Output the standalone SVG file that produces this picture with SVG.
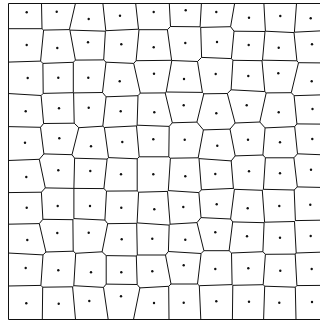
<svg xmlns="http://www.w3.org/2000/svg" width="320" height="324" viewBox="0 0 320 324">
<style>
.edge{fill:none;stroke:#111;stroke-width:1;stroke-linejoin:round}
.frame{fill:none;stroke:#111;stroke-width:1}
.site{fill:#111}
</style>
<rect x="0" y="0" width="320" height="324" fill="#fff"/>
<g id="frame"><path class="frame" d="M8.5,3.5 H321 M8.5,3.5 V319.5 H321"/></g>
<g id="connectors">
<path class="edge" d="M41.5,3.5 L42,28.7 L43.6,30.1 L40.6,61.1 L42.9,63.4 L43.2,93.4 L41.1,95.5 L43.6,123.5 L40.5,127.3 L43.9,153.9 L39.3,159.3 L45.3,187.9 L41.4,192.2 L42.9,219.3 L39.3,223.6 L45.9,252 L43,254.9 L40.9,285.4 L42.7,287.2 L42.3,319.5"/>
<path class="edge" d="M75.4,3.5 L69.4,29.6 L69.9,30.1 L75.4,60.1 L73.3,62.3 L73.3,92.7 L73.6,92.9 L74.2,123.2 L78.8,127.7 L72,154.7 L74.6,158.2 L73.9,188.4 L73.9,218.6 L72.9,219.7 L73.2,251.2 L75.7,253.3 L73.8,285.7 L72.6,286.8 L75.5,319.5"/>
<path class="edge" d="M102.9,3.5 L105.8,30.7 L105.4,31.2 L103.7,59.9 L106,62.2 L102.5,92.5 L106.1,96.8 L102.8,126.2 L104.4,127.5 L108.5,157.6 L107.1,159.1 L103.9,188.6 L106.5,191.1 L104.9,220.1 L107.7,223.7 L102.1,251.8 L106.2,255.6 L106.2,284.1 L103.5,287.4 L108.2,319.5"/>
<path class="edge" d="M135.7,3.5 L138.5,29.2 L139,29.7 L136.1,60.7 L133.7,63.4 L140.3,93.1 L138,95.7 L137.1,125.2 L136.5,125.9 L139.2,156.8 L137.2,158.8 L137.2,190.9 L138.6,192.2 L137.1,222.9 L136.7,223.3 L137.3,255 L136.3,256 L137.2,284.5 L139.9,287.9 L133.5,319.5"/>
<path class="edge" d="M169.3,3.5 L170.5,26.5 L167.4,29.7 L171.6,60.3 L171.8,60.5 L166.2,92 L165.2,92.9 L172.3,122.8 L169.2,126.4 L168.8,156.8 L170.4,158.2 L168.3,190.6 L167.5,191.4 L170.1,224.2 L169.2,225.1 L168.4,251.5 L165.5,255 L171,284 L168.7,286.3 L169,319.5"/>
<path class="edge" d="M201.4,3.5 L200.1,26.8 L200.7,27.4 L201.6,57.4 L197.5,61.5 L202.4,92.4 L203.8,93.8 L196.9,122.1 L203.4,129.9 L198.2,157.8 L199,158.6 L201.4,189.8 L198.9,192.6 L201,217.6 L197,222.6 L203.9,250.7 L201.1,253.5 L197.5,284 L199.3,285.7 L200.8,319.5"/>
<path class="edge" d="M234.6,3.5 L230.6,26.7 L234,31.2 L231.4,58.6 L232.9,60.3 L231.1,89.8 L227.3,93.5 L235.1,123 L230,129.1 L235.2,155.9 L231.2,160.9 L233.4,188.4 L234.4,189.3 L230.6,219 L232.7,221.9 L229.1,250.7 L231.5,253 L232.1,284.6 L232.8,285.3 L232.4,319.5"/>
<path class="edge" d="M263.9,3.5 L265.4,31.2 L265,31.5 L262.5,60.2 L262,60.7 L264.8,91.6 L266.2,92.9 L259.8,122 L265.1,127.9 L262.9,155 L265.4,157.8 L263.4,189.3 L262.3,190.3 L264.6,222.2 L264.1,222.7 L262.9,251.7 L265.4,254.3 L263.2,284.7 L264.7,286.2 L263.6,319.5"/>
<path class="edge" d="M296.5,3.5 L294.4,32.2 L294,32.6 L296.9,60.8 L298.5,62.7 L291.3,92.7 L294.1,95.7 L296.9,123.9 L294.7,126.6 L297.5,153.8 L293.9,157.8 L297.3,186.9 L294.2,190 L295.4,220.6 L294.5,221.5 L296.2,253 L295.2,254.1 L296.9,285.6 L295.3,287.2 L296,319.5"/>
<path class="edge" d="M8,28.7 L42,28.7 M43.6,30.1 L69.4,29.6 M69.9,30.1 L105.4,31.2 M105.8,30.7 L138.5,29.2 M139,29.7 L167.4,29.7 M170.5,26.5 L200.1,26.8 M200.7,27.4 L230.6,26.7 M234,31.2 L265,31.5 M265.4,31.2 L294,32.6 M294.4,32.2 L320,30.9"/>
<path class="edge" d="M8,62.1 L40.6,61.1 M42.9,63.4 L73.3,62.3 M75.4,60.1 L103.7,59.9 M106,62.2 L133.7,63.4 M136.1,60.7 L171.6,60.3 M171.8,60.5 L197.5,61.5 M201.6,57.4 L231.4,58.6 M232.9,60.3 L262,60.7 M262.5,60.2 L296.9,60.8 M298.5,62.7 L320,62.9"/>
<path class="edge" d="M8,93.5 L41.1,95.5 M43.2,93.4 L73.3,92.7 M73.6,92.9 L102.5,92.5 M106.1,96.8 L138,95.7 M140.3,93.1 L165.2,92.9 M166.2,92 L202.4,92.4 M203.8,93.8 L227.3,93.5 M231.1,89.8 L264.8,91.6 M266.2,92.9 L291.3,92.7 M294.1,95.7 L320,94.9"/>
<path class="edge" d="M8,126.6 L40.5,127.3 M43.6,123.5 L74.2,123.2 M78.8,127.7 L102.8,126.2 M104.4,127.5 L136.5,125.9 M137.1,125.2 L169.2,126.4 M172.3,122.8 L196.9,122.1 M203.4,129.9 L230,129.1 M235.1,123 L259.8,122 M265.1,127.9 L294.7,126.6 M296.9,123.9 L320,124.1"/>
<path class="edge" d="M8,160.5 L39.3,159.3 M43.9,153.9 L72,154.7 M74.6,158.2 L107.1,159.1 M108.5,157.6 L137.2,158.8 M139.2,156.8 L168.8,156.8 M170.4,158.2 L198.2,157.8 M199,158.6 L231.2,160.9 M235.2,155.9 L262.9,155 M265.4,157.8 L293.9,157.8 M297.5,153.8 L320,154.7"/>
<path class="edge" d="M8,192.6 L41.4,192.2 M45.3,187.9 L73.9,188.4 L103.9,188.6 M106.5,191.1 L137.2,190.9 M138.6,192.2 L167.5,191.4 M168.3,190.6 L198.9,192.6 M201.4,189.8 L233.4,188.4 M234.4,189.3 L262.3,190.3 M263.4,189.3 L294.2,190 M297.3,186.9 L320,187.4"/>
<path class="edge" d="M8,224.2 L39.3,223.6 M42.9,219.3 L72.9,219.7 M73.9,218.6 L104.9,220.1 M107.7,223.7 L136.7,223.3 M137.1,222.9 L169.2,225.1 M170.1,224.2 L197,222.6 M201,217.6 L230.6,219 M232.7,221.9 L264.1,222.7 M264.6,222.2 L294.5,221.5 M295.4,220.6 L320,220.2"/>
<path class="edge" d="M8,253 L43,254.9 M45.9,252 L73.2,251.2 M75.7,253.3 L102.1,251.8 M106.2,255.6 L136.3,256 M137.3,255 L165.5,255 M168.4,251.5 L201.1,253.5 M203.9,250.7 L229.1,250.7 M231.5,253 L262.9,251.7 M265.4,254.3 L295.2,254.1 M296.2,253 L320,252.2"/>
<path class="edge" d="M8,286 L40.9,285.4 M42.7,287.2 L72.6,286.8 M73.8,285.7 L103.5,287.4 M106.2,284.1 L137.2,284.5 M139.9,287.9 L168.7,286.3 M171,284 L197.5,284 M199.3,285.7 L232.1,284.6 M232.8,285.3 L263.2,284.7 M264.7,286.2 L295.3,287.2 M296.9,285.6 L320,285.4"/>
</g>
<g id="sites" class="site">
<circle cx="26.7" cy="12.3" r="1.2"/><circle cx="56.7" cy="11.7" r="1.2"/><circle cx="88.7" cy="19" r="1.2"/><circle cx="120" cy="15.7" r="1.2"/><circle cx="153.7" cy="12" r="1.2"/><circle cx="185.7" cy="10.3" r="1.2"/><circle cx="216.3" cy="12" r="1.2"/><circle cx="249" cy="17.7" r="1.2"/><circle cx="280.3" cy="16" r="1.2"/><circle cx="310.7" cy="18.3" r="1.2"/>
<circle cx="26.7" cy="45" r="1.2"/><circle cx="57.3" cy="48" r="1.2"/><circle cx="88" cy="42.3" r="1.2"/><circle cx="121.3" cy="44.3" r="1.2"/><circle cx="153.7" cy="47.3" r="1.2"/><circle cx="185.3" cy="43" r="1.2"/><circle cx="217" cy="42" r="1.2"/><circle cx="248.7" cy="45" r="1.2"/><circle cx="278.7" cy="47.7" r="1.2"/><circle cx="312" cy="44.3" r="1.2"/>
<circle cx="27.7" cy="78" r="1.2"/><circle cx="58.3" cy="77.7" r="1.2"/><circle cx="88.3" cy="77.7" r="1.2"/><circle cx="119.7" cy="81.3" r="1.2"/><circle cx="154" cy="73.7" r="1.2"/><circle cx="184" cy="79" r="1.2"/><circle cx="215.7" cy="74" r="1.2"/><circle cx="248.3" cy="76" r="1.2"/><circle cx="278.3" cy="73.3" r="1.2"/><circle cx="311.7" cy="81.3" r="1.2"/>
<circle cx="25.7" cy="111.3" r="1.2"/><circle cx="59" cy="108.3" r="1.2"/><circle cx="88.7" cy="107.7" r="1.2"/><circle cx="120.7" cy="111.3" r="1.2"/><circle cx="154.3" cy="112.3" r="1.2"/><circle cx="183.7" cy="105.3" r="1.2"/><circle cx="216.3" cy="113.3" r="1.2"/><circle cx="246.7" cy="105.3" r="1.2"/><circle cx="278.7" cy="112.3" r="1.2"/><circle cx="312.5" cy="109" r="1.2"/>
<circle cx="25" cy="142.7" r="1.2"/><circle cx="59.3" cy="138.3" r="1.2"/><circle cx="91" cy="146.3" r="1.2"/><circle cx="122.3" cy="142" r="1.2"/><circle cx="153.3" cy="139.3" r="1.2"/><circle cx="184.7" cy="139.7" r="1.2"/><circle cx="217.3" cy="145.7" r="1.2"/><circle cx="248" cy="139.7" r="1.2"/><circle cx="280" cy="142.3" r="1.2"/><circle cx="312.3" cy="139" r="1.2"/>
<circle cx="26.3" cy="177" r="1.2"/><circle cx="58.3" cy="170.3" r="1.2"/><circle cx="90.3" cy="171" r="1.2"/><circle cx="121" cy="174.3" r="1.2"/><circle cx="153.3" cy="174.3" r="1.2"/><circle cx="185.3" cy="176.3" r="1.2"/><circle cx="215.3" cy="174" r="1.2"/><circle cx="249" cy="171.3" r="1.2"/><circle cx="280" cy="173.3" r="1.2"/><circle cx="311" cy="169.7" r="1.2"/>
<circle cx="26.7" cy="207.7" r="1.2"/><circle cx="57.7" cy="206" r="1.2"/><circle cx="90" cy="206" r="1.2"/><circle cx="121.3" cy="207.7" r="1.2"/><circle cx="154.3" cy="209.3" r="1.2"/><circle cx="183.3" cy="207" r="1.2"/><circle cx="216.7" cy="204.3" r="1.2"/><circle cx="247.7" cy="208.3" r="1.2"/><circle cx="279.3" cy="206" r="1.2"/><circle cx="310.3" cy="204.7" r="1.2"/>
<circle cx="27.3" cy="240" r="1.2"/><circle cx="57.3" cy="233" r="1.2"/><circle cx="88.7" cy="232.7" r="1.2"/><circle cx="121.7" cy="239.3" r="1.2"/><circle cx="152.3" cy="238.7" r="1.2"/><circle cx="185.3" cy="239.7" r="1.2"/><circle cx="215.3" cy="232.3" r="1.2"/><circle cx="247" cy="236.3" r="1.2"/><circle cx="280" cy="237.7" r="1.2"/><circle cx="310.7" cy="236" r="1.2"/>
<circle cx="25.7" cy="268" r="1.2"/><circle cx="58.3" cy="270.3" r="1.2"/><circle cx="91" cy="272.3" r="1.2"/><circle cx="121.3" cy="272.3" r="1.2"/><circle cx="152.3" cy="271.3" r="1.2"/><circle cx="183.7" cy="265.3" r="1.2"/><circle cx="215.3" cy="269" r="1.2"/><circle cx="248.3" cy="268.3" r="1.2"/><circle cx="280.3" cy="270.7" r="1.2"/><circle cx="311.7" cy="269" r="1.2"/>
<circle cx="26.3" cy="303.3" r="1.2"/><circle cx="58.7" cy="303.7" r="1.2"/><circle cx="89.3" cy="301" r="1.2"/><circle cx="121" cy="296.3" r="1.2"/><circle cx="154" cy="303" r="1.2"/><circle cx="183.7" cy="302.7" r="1.2"/><circle cx="216.3" cy="301.3" r="1.2"/><circle cx="249" cy="301.7" r="1.2"/><circle cx="279.3" cy="302.7" r="1.2"/><circle cx="312" cy="302" r="1.2"/>
</g>
</svg>
